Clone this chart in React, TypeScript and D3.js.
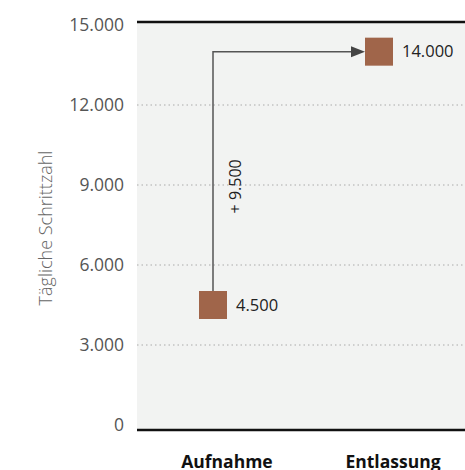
import React from "react";
import * as d3 from "d3";

const categories = ["Aufnahme", "Entlassung"];
const values = [4500, 14000];
const yTicks = [0, 3000, 6000, 9000, 12000, 15000];
const yTitle = "Tägliche Schrittzahl";

const W = 465;
const H = 470;
const plotLeft = 137;
const plotRight = 465;
const plotTop = 22;
const plotBottom = 430;

const de = d3.formatLocale({ decimal: ",", thousands: ".", grouping: [3], currency: ["", " €"] });
const fmt = de.format(",");

export default function App() {
  const y = d3.scaleLinear().domain([0, 15000]).range([425, 25]);
  const x = d3.scalePoint<string>().domain(categories).range([213, 379]);
  const sq = 28;
  const color = "#a0654a";
  const font = "'Open Sans', sans-serif";

  const x1 = x(categories[0])!;
  const x2 = x(categories[1])!;
  const y1 = y(values[0]);
  const y2 = y(values[1]);
  const diff = values[1] - values[0];
  const tipX = x2 - sq / 2;
  const arrowLen = 14;

  return (
    <svg width={W} height={H} style={{ position: "absolute", left: 0, top: 0, display: "block" }}>
      <rect x={plotLeft} y={plotTop} width={plotRight - plotLeft} height={plotBottom - plotTop} fill="#f2f3f2" />
      {yTicks.filter((t) => t > 0 && t < 15000).map((t) => (
        <line key={t} x1={plotLeft} x2={plotRight} y1={y(t)} y2={y(t)} stroke="#aaa" strokeWidth={1} strokeDasharray="1.5 3" />
      ))}
      <line x1={plotLeft} x2={plotRight} y1={plotTop} y2={plotTop} stroke="#111" strokeWidth={2.5} />
      <line x1={plotLeft} x2={plotRight} y1={plotBottom} y2={plotBottom} stroke="#111" strokeWidth={2.5} />
      {yTicks.map((t) => (
        <text key={t} x={124} y={y(t)} dy="0.35em" textAnchor="end" fontFamily={font} fontSize={17.5} fill="#555">
          {fmt(t)}
        </text>
      ))}
      <text
        transform={`translate(52,228) rotate(-90)`}
        textAnchor="middle"
        fontFamily={font}
        fontWeight={300}
        fontSize={18}
        fill="#666"
      >
        {yTitle}
      </text>
      {/* connector arrow */}
      <path
        d={`M${x1},${y1 - sq / 2} V${y2} H${tipX - arrowLen + 1}`}
        fill="none"
        stroke="#555"
        strokeWidth={1.5}
      />
      <path d={`M${tipX},${y2} L${tipX - arrowLen},${y2 - 5.5} L${tipX - arrowLen},${y2 + 5.5} Z`} fill="#444" />
      <text
        transform={`translate(${x1 + 28},${(y1 + y2) / 2 + 8}) rotate(-90)`}
        textAnchor="middle"
        fontFamily={font}
        fontSize={16}
        fill="#222"
      >
        {"+ " + fmt(diff)}
      </text>
      {categories.map((c, i) => (
        <g key={c}>
          <rect x={x(c)! - sq / 2} y={y(values[i]) - sq / 2} width={sq} height={sq} fill={color} />
          <text x={x(c)! + sq / 2 + 9} y={y(values[i])} dy="0.35em" fontFamily={font} fontSize={16.5} fill="#222">
            {fmt(values[i])}
          </text>
          <text x={x(c)! + 14} y={468} textAnchor="middle" fontFamily={font} fontWeight="bold" fontSize={17.5} fill="#111">
            {c}
          </text>
        </g>
      ))}
    </svg>
  );
}
